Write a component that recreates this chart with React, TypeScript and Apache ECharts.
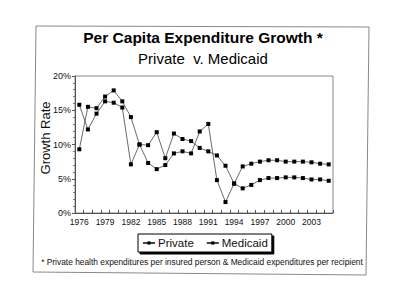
import React, { useEffect, useRef } from "react";
import * as echarts from "echarts";

const years: string[] = [
  "1976","1977","1978","1979","1980","1981","1982","1983","1984","1985",
  "1986","1987","1988","1989","1990","1991","1992","1993","1994","1995",
  "1996","1997","1998","1999","2000","2001","2002","2003","2004","2005",
];
const privateGrowth: number[] = [
  15.8, 12.2, 14.5, 16.3, 16.1, 15.4, 7.1, 10.0, 9.9, 11.8,
  8.0, 11.6, 10.8, 10.5, 9.5, 9.0, 8.4, 6.9, 4.3, 3.6,
  4.1, 4.8, 5.1, 5.1, 5.2, 5.2, 5.1, 4.9, 4.9, 4.7,
];
const medicaidGrowth: number[] = [
  9.3, 15.5, 15.3, 17.0, 17.9, 16.3, 14.0, 10.0, 7.3, 6.4,
  7.0, 8.7, 9.0, 8.7, 11.9, 13.0, 4.8, 1.6, 4.3, 6.8,
  7.2, 7.5, 7.7, 7.7, 7.5, 7.5, 7.5, 7.4, 7.2, 7.1,
];
const titleText = "Per Capita Expenditure Growth *";
const subtitleText = "Private  v. Medicaid";
const footnoteText =
  "* Private health expenditures per insured person & Medicaid expenditures per recipient";

const FONT = "'Liberation Sans', Arial, Helvetica, sans-serif";

export default function App() {
  const ref = useRef<HTMLDivElement>(null);
  useEffect(() => {
    if (!ref.current) return;
    const chart = echarts.init(ref.current, undefined, { renderer: "svg" });
    const lineSeries = (name: string, data: number[]) => ({
      name,
      type: "line",
      data,
      symbol: "rect",
      symbolSize: 4,
      itemStyle: { color: "#000" },
      lineStyle: { color: "#444", width: 0.8 },
    });
    chart.setOption({
      animation: false,
      backgroundColor: "#fff",
      textStyle: { fontFamily: FONT },
      grid: { left: 75, top: 76, width: 258, height: 137, show: true, borderColor: "#888", borderWidth: 1, backgroundColor: "transparent" },
      xAxis: {
        type: "category",
        data: years,
        boundaryGap: true,
        axisLine: { lineStyle: { color: "#555", width: 1 } },
        axisTick: { show: true, interval: 0, inside: true, length: 3, lineStyle: { color: "#555" } },
        axisLabel: { interval: 2, fontSize: 8.5, color: "#111", margin: 4, fontFamily: FONT },
      },
      yAxis: {
        type: "value",
        min: 0,
        max: 20,
        interval: 5,
        axisLine: { show: true, lineStyle: { color: "#555", width: 1 } },
        axisTick: { show: true, length: 3, lineStyle: { color: "#555" } },
        minorTick: { show: true, splitNumber: 5, length: 2, lineStyle: { color: "#777" } },
        splitLine: { show: false },
        axisLabel: { formatter: "{value}%", fontSize: 9, color: "#111", margin: 4, fontFamily: FONT },
      },
      legend: {
        data: ["Private", "Medicaid"],
        orient: "horizontal",
        left: 138,
        top: 234,
        itemWidth: 12,
        itemHeight: 4,
        itemGap: 12,
        padding: [3, 4, 3, 4],
        borderColor: "#000",
        borderWidth: 1,
        backgroundColor: "#fff",
        shadowColor: "#000",
        shadowBlur: 0,
        shadowOffsetX: 2,
        shadowOffsetY: 2,
        textStyle: { fontSize: 11.5, color: "#111", fontFamily: FONT, padding: [0, 0, 0, -2] },
      },
      series: [lineSeries("Private", privateGrowth), lineSeries("Medicaid", medicaidGrowth)],
      graphic: [
        {
          type: "polygon",
          shape: { points: [[36, 26], [369, 27], [366, 275], [33, 272]] },
          style: { fill: "none", stroke: "#888", lineWidth: 1 },
          z: -1,
        },
        {
          type: "text",
          x: 203, y: 37,
          style: { text: titleText, font: `bold 15.5px ${FONT}`, fill: "#000", align: "center", verticalAlign: "middle" },
        },
        {
          type: "text",
          x: 203, y: 58,
          style: { text: subtitleText, font: `15px ${FONT}`, fill: "#000", align: "center", verticalAlign: "middle" },
        },
        {
          type: "text",
          x: 45, y: 138, rotation: Math.PI / 2,
          style: { text: "Growth Rate", font: `13px ${FONT}`, fill: "#111", align: "center", verticalAlign: "middle" },
        },
        {
          type: "text",
          x: 202, y: 262,
          style: { text: footnoteText, font: `8.4px ${FONT}`, fill: "#111", align: "center", verticalAlign: "middle" },
        },
      ],
    });
    return () => chart.dispose();
  }, []);
  return <div ref={ref} style={{ position: "absolute", left: 0, top: 0, width: 400, height: 306 }} />;
}
